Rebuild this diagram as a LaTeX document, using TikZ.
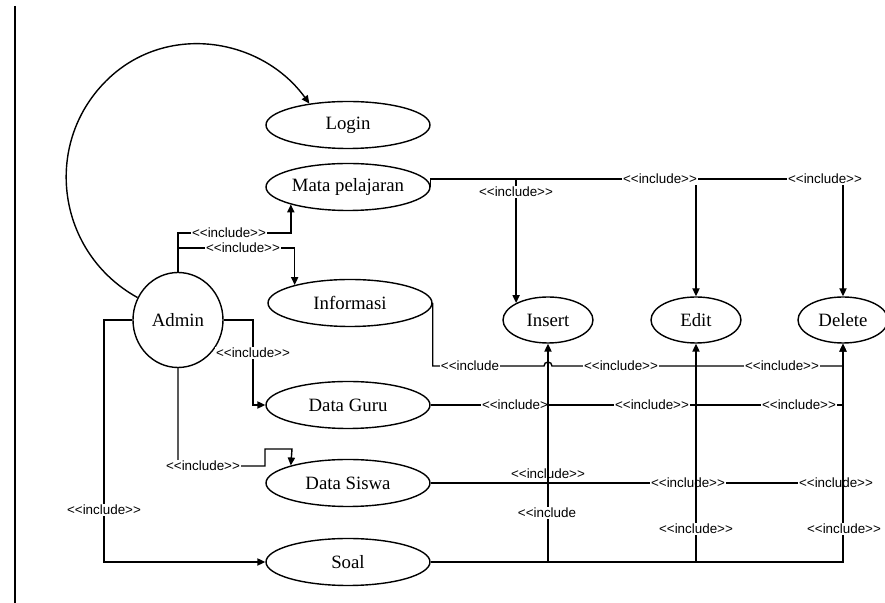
\documentclass[tikz,border=0pt]{standalone}
\usepackage{fontspec}
\setmainfont{Liberation Serif}
\setsansfont{Liberation Sans}
\usetikzlibrary{shapes.geometric, arrows.meta}
\newcommand{\incl}{<\kern0pt<include>\kern0pt>}
\newcommand{\inclcut}{<\kern0pt<include}

\begin{document}
\begin{tikzpicture}[
        x=0.5pt, y=-0.5pt,
        usecase/.style={ellipse, draw, line width=0.7pt, minimum width=82pt, minimum height=23.5pt, inner sep=0pt, font=\fontsize{9.4}{11}\selectfont},
        smallcase/.style={usecase, minimum width=45pt, minimum height=23pt},
        actor/.style={usecase, minimum width=45pt, minimum height=47.5pt},
        arrow/.style={-{Triangle[length=4pt, width=3.6pt]}, line width=0.7pt},
        link/.style={line width=0.7pt},
        inclabel/.style={fill=white, inner sep=0.6pt, font=\sffamily\fontsize{6.7}{7}\selectfont},
    ]
    \useasboundingbox (0,0) rectangle (885,603);
    \draw[line width=0.8pt] (15,6) -- (15,603);

    % ===== Use cases =====
    \node[usecase] (LOGIN) at (348,125) {Login};
    \node[usecase] (MATA) at (348,187) {Mata pelajaran};
    \node[usecase] (INFO) at (350,303) {Informasi};
    \node[actor] (ADMIN) at (178,320) {Admin};
    \node[usecase] (GURU) at (348,405) {Data Guru};
    \node[usecase] (SISWA) at (348,483) {Data Siswa};
    \node[usecase] (SOAL) at (348,562) {Soal};

    \node[smallcase] (INSERT) at (548,320) {Insert};
    \node[smallcase] (EDIT) at (696,320) {Edit};
    \node[smallcase] (DELETE) at (843,320) {Delete};

    % ===== Admin =====
    \draw[arrow] (ADMIN.151) .. controls (57,253) and (42,145) .. (106,81)
        .. controls (165,22) and (261,37) .. (LOGIN.151);

    \draw[arrow] (ADMIN.north) -- (ADMIN.north |- 0,233) -| (MATA.197);
    \node[inclabel] at (229,233) {\incl};
    \draw[arrow] (ADMIN.north |- 0,248) -| (INFO.162);
    \node[inclabel] at (243,248) {\incl};

    \draw[arrow] (ADMIN.east) -| (253,405) -- (GURU.west);
    \node[inclabel] at (253,353) {\incl};

    \draw[arrow] (ADMIN.south) |- (265,466) |- (292,449) -- (SISWA.163);
    \node[inclabel] at (203,466) {\incl};

    \draw[arrow] (ADMIN.west) -| (104,562) -- (SOAL.west);
    \node[inclabel] at (104,510) {\incl};

    % ===== Mata pelajaran =====
    \draw[arrow] (MATA.east) |- (EDIT.north |- 0,179) -- (EDIT.north);
    \draw[arrow] (MATA.east) |- (DELETE.north |- 0,179) -- (DELETE.north);
    \draw[arrow] (INSERT.152 |- 0,179) -- (INSERT.152);
    \node[inclabel] at (660,179) {\incl};
    \node[inclabel] at (825,179) {\incl};
    \node[inclabel] at (516,192) {\incl};

    % ===== Informasi =====
    \draw[arrow] (INFO.east) |- (544,366) arc[start angle=180, end angle=360, radius=4]
        -- (DELETE.south |- 0,366) -- (DELETE.south);
    \node[inclabel] at (470,366) {\inclcut};
    \node[inclabel] at (621,366) {\incl};
    \node[inclabel] at (782,366) {\incl};

    % ===== Data Guru / Data Siswa =====
    \draw[link] (GURU.east) -- (DELETE.south |- GURU.east);
    \node[inclabel] at (515,405) {<\kern0pt<include>};
    \node[inclabel] at (652,405) {\incl};
    \node[inclabel] at (799,405) {\incl};

    \draw[link] (SISWA.east) -- (DELETE.south |- SISWA.east);
    \node[inclabel] at (548,474) {\incl};
    \node[inclabel] at (688,483) {\incl};
    \node[inclabel] at (836,483) {\incl};

    % ===== Soal =====
    \draw[arrow] (SOAL.east) -- (DELETE.south |- SOAL.east) -- (DELETE.south);
    \draw[arrow] (INSERT.south |- SOAL.east) -- (INSERT.south);
    \draw[arrow] (EDIT.south |- SOAL.east) -- (EDIT.south);
    \node[inclabel] at (547,513) {\inclcut};
    \node[inclabel] at (696,529) {\incl};
    \node[inclabel] at (844,529) {\incl};

\end{tikzpicture}
\end{document}
